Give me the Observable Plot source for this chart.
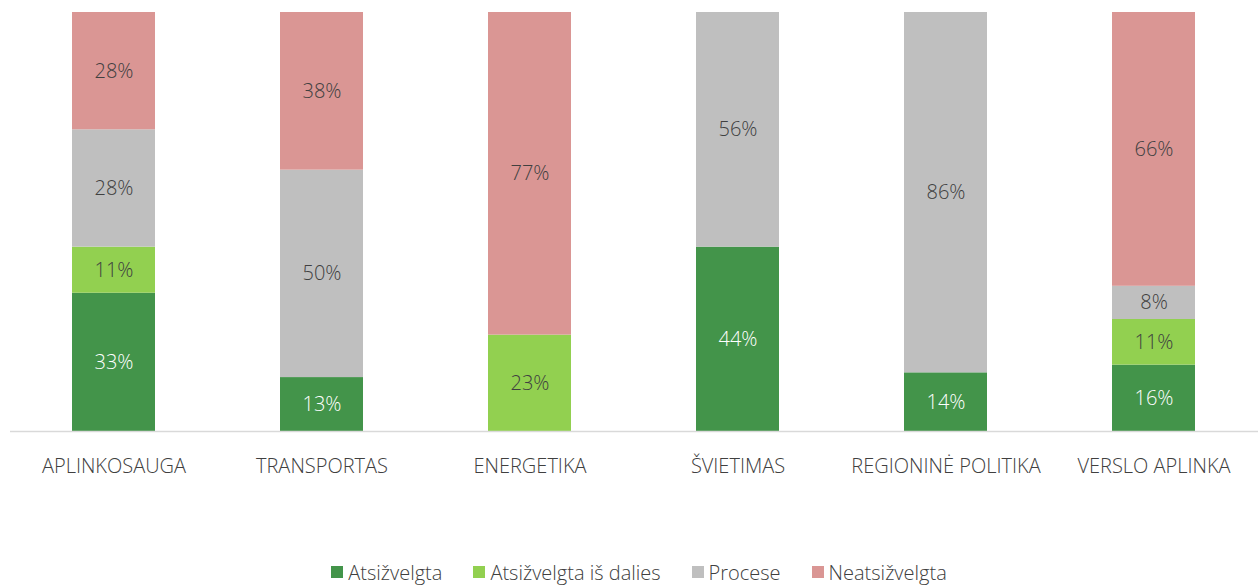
<!DOCTYPE html>
<html>
<head>
<meta charset="utf-8">
<script src="https://cdn.jsdelivr.net/npm/d3@7"></script>
<script src="https://cdn.jsdelivr.net/npm/@observablehq/plot@0.6"></script>
<style>
  html, body { margin: 0; padding: 0; background: #fff; }
  body { width: 1258px; height: 586px; overflow: hidden; font-family: "Open Sans", sans-serif; }
  #legend { display: flex; justify-content: center; align-items: center; gap: 31px; font-size: 20px; font-weight: 300; color: #404040; height: 40px; padding-left: 20px; }
  #legend .item { display: flex; align-items: center; }
  #legend .sw { width: 12px; height: 12px; margin-right: 5px; }
</style>
</head>
<body>
<div id="chart"></div>
<div id="legend"></div>
<script>
const categories = ["APLINKOSAUGA", "TRANSPORTAS", "ENERGETIKA", "ŠVIETIMAS", "REGIONINĖ POLITIKA", "VERSLO APLINKA"];
const seriesNames = ["Atsižvelgta", "Atsižvelgta iš dalies", "Procese", "Neatsižvelgta"];
const seriesColors = ["#43944A", "#92D050", "#BFBFBF", "#DA9694"];
const atsizvelgta =         [33, 13, 0, 44, 14, 16];
const atsizvelgtaIsDalies = [11, 0, 23, 0, 0, 11];
const procese =             [28, 50, 0, 56, 86, 8];
const neatsizvelgta =       [28, 38, 77, 0, 0, 66];

const seriesValues = [atsizvelgta, atsizvelgtaIsDalies, procese, neatsizvelgta];
const data = [];
seriesNames.forEach((s, si) => {
  categories.forEach((c, ci) => {
    data.push({category: c, series: s, value: seriesValues[si][ci], order: si});
  });
});
const nonZero = data.filter(d => d.value > 0);

const stackOpts = {x: "category", y: "value", z: "series", order: seriesNames, offset: "normalize"};

const chart = Plot.plot({
  width: 1258,
  height: 552,
  marginLeft: 10,
  marginRight: 0,
  marginTop: 12,
  marginBottom: 121,
  style: {fontFamily: "'Open Sans', sans-serif", fontWeight: 300, background: "#fff"},
  x: {domain: categories, paddingInner: 0.6, paddingOuter: 0.3, label: null},
  y: {domain: [0, 1], axis: null},
  color: {domain: seriesNames, range: seriesColors},
  marks: [
    Plot.barY(nonZero, Plot.stackY({...stackOpts, fill: "series"})),
    Plot.text(nonZero, Plot.stackY({...stackOpts, text: d => d.order === 0 ? d.value + "%" : "", fill: "#ffffff", fontSize: 20, fontWeight: 300})),
    Plot.text(nonZero, Plot.stackY({...stackOpts, text: d => d.order !== 0 ? d.value + "%" : "", fill: "#404040", fontSize: 20, fontWeight: 300})),
    Plot.ruleY([0], {stroke: "#d9d9d9", strokeWidth: 1.5}),
    Plot.axisX({tickSize: 0, tickPadding: 27, fontSize: 20, fontWeight: 300, fill: "#404040", label: null})
  ]
});
document.getElementById("chart").appendChild(chart);

const legend = document.getElementById("legend");
seriesNames.forEach((s, i) => {
  const item = document.createElement("div");
  item.className = "item";
  const sw = document.createElement("div");
  sw.className = "sw";
  sw.style.background = seriesColors[i];
  const t = document.createElement("span");
  t.textContent = s;
  item.appendChild(sw);
  item.appendChild(t);
  legend.appendChild(item);
});
</script>
</body>
</html>
